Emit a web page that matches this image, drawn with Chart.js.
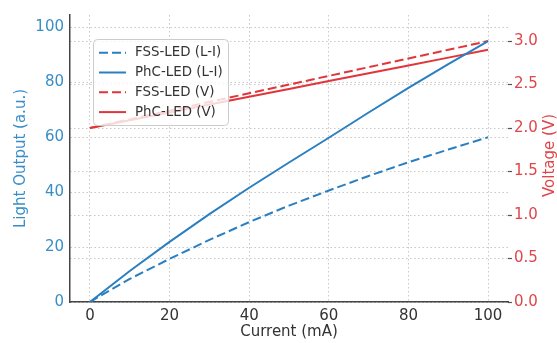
<!DOCTYPE html>
<html>
<head>
<meta charset="utf-8">
<script src="https://cdn.jsdelivr.net/npm/chart.js@4.4.1/dist/chart.umd.min.js"></script>
<style>
  html, body { margin: 0; padding: 0; background: #fff; }
  #wrap { width: 557px; height: 343px; }
</style>
</head>
<body>
<div id="wrap"><canvas id="chart" width="557" height="343"></canvas></div>
<script>
'use strict';

// values
var current = [0, 10, 20, 30, 40, 50, 60, 70, 80, 90, 100];
var fssLight = [0, 8.4, 15.7, 22.6, 29.1, 35.1, 40.6, 45.9, 50.9, 55.5, 60];
var phcLight = [0, 11.3, 21.9, 32.0, 41.6, 50.8, 59.8, 69.0, 78.0, 86.6, 95.0];
var fssVoltage = [2.0, 2.1, 2.2, 2.3, 2.4, 2.5, 2.6, 2.7, 2.8, 2.9, 3.0];
var phcVoltage = [2.0, 2.09, 2.18, 2.27, 2.36, 2.45, 2.54, 2.63, 2.72, 2.81, 2.9];

var currentTicks = [0, 20, 40, 60, 80, 100];
var lightTicks = [0, 20, 40, 60, 80, 100];
var voltageTicks = [0, 0.5, 1.0, 1.5, 2.0, 2.5, 3.0];

var BLUE = '#2a7fc0',
  RED = '#e0353a',
  BLUE_TEXT = '#3a8ec8',
  RED_TEXT = '#e0454a',
  GRID = '#c8c8c8',
  AXIS = '#444444',
  FONT = '"DejaVu Sans", sans-serif';

Chart.defaults.font.family = FONT;
Chart.defaults.font.size = 15;

function toPoints(xs, ys) {
  return xs.map(function (x, i) {
    return { x: x, y: ys[i] };
  });
}

function fixedTicks(list) {
  return function (scale) {
    scale.ticks = list.map(function (v) { return { value: v }; });
  };
}

// legend box drawn inside the plot, like the reference
var insideLegend = {
  id: 'insideLegend',
  afterDatasetsDraw: function (chart) {
    var ctx = chart.ctx,
      area = chart.chartArea,
      x = area.left + 23,
      y = area.top + 24,
      w = 135,
      h = 86;
    ctx.save();
    ctx.beginPath();
    ctx.roundRect(x + 0.5, y + 0.5, w, h, 4);
    ctx.fillStyle = 'rgba(255,255,255,0.8)';
    ctx.fill();
    ctx.strokeStyle = '#cccccc';
    ctx.lineWidth = 1;
    ctx.stroke();
    chart.data.datasets.forEach(function (ds, i) {
      var rowY = y + 13.7 + i * 19.8;
      ctx.beginPath();
      ctx.setLineDash(ds.borderDash || []);
      ctx.strokeStyle = ds.borderColor;
      ctx.lineWidth = ds.borderWidth;
      ctx.moveTo(x + 6, rowY);
      ctx.lineTo(x + 33, rowY);
      ctx.stroke();
      ctx.setLineDash([]);
      ctx.fillStyle = '#333333';
      ctx.font = '13.4px ' + FONT;
      ctx.textBaseline = 'middle';
      ctx.textAlign = 'left';
      ctx.fillText(ds.label, x + 42, rowY);
    });
    ctx.restore();
  }
};

// right axis title reads bottom-to-top
var rightTitle = {
  id: 'rightTitle',
  afterDraw: function (chart) {
    var ctx = chart.ctx,
      area = chart.chartArea;
    ctx.save();
    ctx.translate(550, (area.top + area.bottom) / 2 - 3);
    ctx.rotate(-Math.PI / 2);
    ctx.font = '15px ' + FONT;
    ctx.fillStyle = RED_TEXT;
    ctx.textAlign = 'center';
    ctx.textBaseline = 'middle';
    ctx.fillText('Voltage (V)', 0, 0);
    ctx.restore();
  }
};

var chartEl = document.getElementById('chart');

new Chart(chartEl, {
  type: 'line',
  data: {
    datasets: [
      {
        label: 'FSS-LED (L-I)',
        data: toPoints(current, fssLight),
        borderColor: BLUE,
        borderWidth: 2,
        borderDash: [9, 4],
        yAxisID: 'y'
      },
      {
        label: 'PhC-LED (L-I)',
        data: toPoints(current, phcLight),
        borderColor: BLUE,
        borderWidth: 2,
        yAxisID: 'y'
      },
      {
        label: 'FSS-LED (V)',
        data: toPoints(current, fssVoltage),
        borderColor: RED,
        borderWidth: 2,
        borderDash: [9, 4],
        yAxisID: 'y2'
      },
      {
        label: 'PhC-LED (V)',
        data: toPoints(current, phcVoltage),
        borderColor: RED,
        borderWidth: 2,
        yAxisID: 'y2'
      }
    ]
  },
  options: {
    responsive: false,
    animation: false,
    devicePixelRatio: 1,
    layout: { padding: { top: 13, left: 0, right: 0, bottom: 0 } },
    elements: {
      point: { radius: 0 },
      line: { tension: 0, fill: false }
    },
    plugins: {
      legend: { display: false },
      tooltip: { enabled: false }
    },
    scales: {
      x: {
        type: 'linear',
        min: -5,
        max: 105,
        afterBuildTicks: fixedTicks(currentTicks),
        afterFit: function (s) { s.height = 41; },
        grid: { color: GRID, drawTicks: false },
        border: { color: AXIS, width: 1.5, dash: [1.5, 2.5] },
        ticks: { color: '#333333', padding: 5 },
        title: {
          display: true,
          text: 'Current (mA)',
          color: '#333333',
          font: { size: 15, lineHeight: 1 },
          padding: { top: 0, bottom: 3 }
        }
      },
      y: {
        position: 'left',
        min: 0,
        max: 104.5,
        afterBuildTicks: fixedTicks(lightTicks),
        afterFit: function (s) { s.width = 70; },
        grid: { color: GRID, drawTicks: false },
        border: { color: AXIS, width: 1.5, dash: [1.5, 2.5] },
        ticks: { color: BLUE_TEXT, padding: 6 },
        title: {
          display: true,
          text: 'Light Output (a.u.)',
          color: BLUE_TEXT,
          font: { size: 15, lineHeight: 1 },
          padding: { top: 14, bottom: 0 }
        }
      },
      y2: {
        position: 'right',
        min: 0,
        max: 3.3,
        afterBuildTicks: fixedTicks(voltageTicks),
        afterFit: function (s) { s.width = 49; },
        grid: { color: GRID, drawTicks: true, tickLength: 4, tickColor: '#555555', tickWidth: 1.2 },
        border: { display: false, dash: [1.5, 2.5] },
        ticks: {
          color: RED_TEXT,
          padding: 2,
          callback: function (v) { return Number(v).toFixed(1); }
        }
      }
    }
  },
  plugins: [insideLegend, rightTitle]
});
</script>
</body>
</html>
